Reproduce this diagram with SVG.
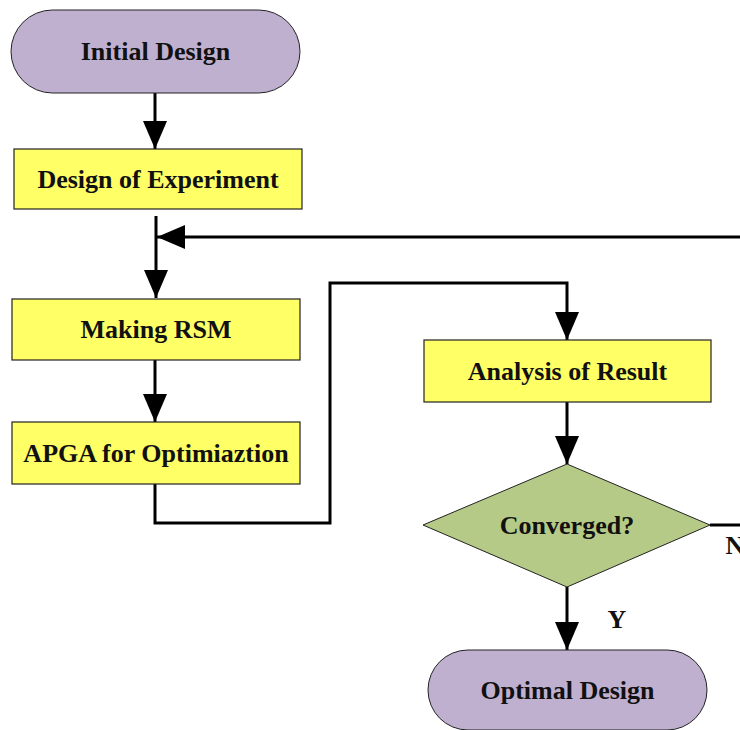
<svg xmlns="http://www.w3.org/2000/svg" width="740" height="730" viewBox="0 0 740 730">
  <style>
    .term { fill: #c0b0d0; stroke: #222; stroke-width: 1; }
    .proc { fill: #ffff66; stroke: #222; stroke-width: 1.2; }
    .dec { fill: #b5ca86; stroke: #222; stroke-width: 1; }
    .lbl { font-family: "Liberation Serif", "Times New Roman", serif; font-weight: bold; font-size: 26px; fill: #111; text-anchor: middle; dominant-baseline: central; }
    .wire { fill: none; stroke: #000; stroke-width: 3; }
  </style>
  <defs>
    <marker id="head" markerUnits="userSpaceOnUse" markerWidth="28" markerHeight="24" refX="28" refY="12" orient="auto">
      <path d="M0,0 L28,12 L0,24 z" fill="#000"/>
    </marker>
  </defs>

  <rect width="740" height="730" fill="#fff"/>

  <g id="connectors">
    <line class="wire" x1="155" y1="93" x2="155" y2="149" marker-end="url(#head)"/>
    <line class="wire" x1="156" y1="216" x2="156" y2="298" marker-end="url(#head)"/>
    <line class="wire" x1="740" y1="237" x2="157" y2="237" marker-end="url(#head)"/>
    <line class="wire" x1="155" y1="360" x2="155" y2="422" marker-end="url(#head)"/>
    <polyline class="wire" points="155,484 155,523 330,523 330,283 567,283 567,340" marker-end="url(#head)"/>
    <line class="wire" x1="567" y1="402" x2="567" y2="464" marker-end="url(#head)"/>
    <line class="wire" x1="710" y1="525" x2="740" y2="525"/>
    <line class="wire" x1="567" y1="587" x2="567" y2="650" marker-end="url(#head)"/>
    <text class="lbl" x="735" y="545">N</text>
    <text class="lbl" x="617" y="619">Y</text>
  </g>

  <g id="initial-design">
    <rect class="term" x="11" y="10" width="289" height="83" rx="41.5"/>
    <text class="lbl" x="155.5" y="51">Initial Design</text>
  </g>

  <g id="design-of-experiment">
    <rect class="proc" x="14" y="149" width="288" height="60"/>
    <text class="lbl" x="158" y="179">Design of Experiment</text>
  </g>

  <g id="making-rsm">
    <rect class="proc" x="12" y="299" width="288" height="61"/>
    <text class="lbl" x="156" y="329">Making RSM</text>
  </g>

  <g id="apga">
    <rect class="proc" x="12" y="422" width="288" height="62"/>
    <text class="lbl" x="156" y="453">APGA for Optimiaztion</text>
  </g>

  <g id="analysis-of-result">
    <rect class="proc" x="424" y="340" width="287" height="62"/>
    <text class="lbl" x="567.5" y="371">Analysis of Result</text>
  </g>

  <g id="converged">
    <polygon class="dec" points="567,464 710,525 567,587 423,525"/>
    <text class="lbl" x="567" y="525">Converged?</text>
  </g>

  <g id="optimal-design">
    <rect class="term" x="428" y="650" width="279" height="80" rx="40"/>
    <text class="lbl" x="567.5" y="690">Optimal Design</text>
  </g>
</svg>
